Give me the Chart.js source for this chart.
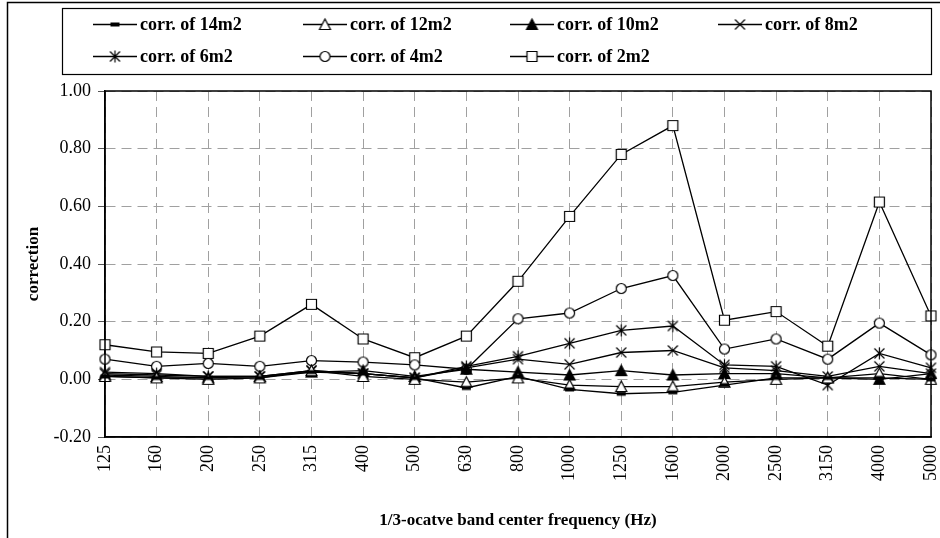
<!DOCTYPE html>
<html><head><meta charset="utf-8">
<script src="https://cdn.jsdelivr.net/npm/chart.js@4/dist/chart.umd.min.js"></script>
<style>html,body{margin:0;padding:0;background:#fff;}#wrap{width:940px;height:538px;}</style>
</head><body><div id="wrap"><canvas id="c" width="940" height="538"></canvas></div>
<script>
const categories = ['125','160','200','250','315','400','500','630','800','1000','1250','1600','2000','2500','3150','4000','5000'];
const corr14 = [0.010,0.005,0.005,0.005,0.025,0.020,0.005,-0.030,0.010,-0.035,-0.050,-0.045,-0.020,0.005,0.005,0.005,0.000];
const corr12 = [0.010,0.005,0.000,0.005,0.030,0.010,0.000,-0.010,0.005,-0.020,-0.025,-0.025,-0.010,0.000,0.005,0.020,0.000];
const corr10 = [0.015,0.010,0.005,0.010,0.025,0.030,0.010,0.035,0.025,0.015,0.030,0.015,0.020,0.020,0.005,0.000,0.020];
const corr8  = [0.020,0.015,0.010,0.010,0.030,0.020,0.005,0.040,0.070,0.052,0.093,0.100,0.040,0.030,0.010,0.045,0.020];
const corr6  = [0.025,0.020,0.010,0.010,0.030,0.020,0.005,0.045,0.080,0.125,0.170,0.185,0.050,0.045,-0.020,0.090,0.040];
const corr4  = [0.070,0.045,0.055,0.045,0.065,0.060,0.050,0.035,0.210,0.230,0.315,0.360,0.105,0.140,0.070,0.195,0.085];
const corr2  = [0.120,0.095,0.090,0.150,0.260,0.140,0.075,0.150,0.340,0.565,0.780,0.880,0.205,0.235,0.115,0.615,0.220];
const seriesNames = ['corr. of 14m2','corr. of 12m2','corr. of 10m2','corr. of 8m2','corr. of 6m2','corr. of 4m2','corr. of 2m2'];
const yMin = -0.2, yMax = 1.0, yStep = 0.2;

const FONT = "'Liberation Serif','Times New Roman',serif";

function mk(kind){
  const s=15, c=document.createElement('canvas'); c.width=s; c.height=s;
  const g=c.getContext('2d'); g.lineWidth=1.2; g.strokeStyle='#000'; g.fillStyle='#fff';
  const m=s/2, r=5;
  g.beginPath();
  if(kind==='dash'){ g.fillStyle='#000'; g.fillRect(m-4.5,m-2,9,4); }
  else if(kind==='tri'||kind==='trif'){
    if(kind==='trif') g.fillStyle='#000';
    g.moveTo(m,m-r-0.5); g.lineTo(m+r+0.5,m+r); g.lineTo(m-r-0.5,m+r); g.closePath(); g.fill(); g.stroke();
  } else if(kind==='x'||kind==='ast'){
    g.moveTo(m-r,m-r); g.lineTo(m+r,m+r); g.moveTo(m+r,m-r); g.lineTo(m-r,m+r);
    if(kind==='ast'){ g.moveTo(m,m-r-1); g.lineTo(m,m+r+1); }
    g.stroke();
  } else if(kind==='circ'){ g.arc(m,m,r,0,Math.PI*2); g.fill(); g.stroke(); }
  else if(kind==='sq'){ g.rect(m-r,m-r,2*r,2*r); g.fill(); g.stroke(); }
  return c;
}
const markers = [mk('dash'),mk('tri'),mk('trif'),mk('x'),mk('ast'),mk('circ'),mk('sq')];
const allData = [corr14,corr12,corr10,corr8,corr6,corr4,corr2];

const datasets = allData.map((d,i)=>({
  label: seriesNames[i], data: d, borderColor:'#000', borderWidth:1.3, tension:0,
  pointStyle: markers[i], pointRadius:5, fill:false, backgroundColor:'#fff'
}));

const frame = {
  id:'frame',
  beforeDraw(chart){
    const g=chart.ctx; g.save(); g.strokeStyle='#000'; g.lineWidth=1.5;
    g.beginPath(); g.moveTo(7.5,538); g.lineTo(7.5,2.5); g.lineTo(940,2.5); g.stroke(); g.restore();
  },
  afterDraw(chart){
    const g=chart.ctx, a=chart.chartArea; g.save();
    g.strokeStyle='#000'; g.lineWidth=1.5;
    g.strokeRect(a.left,a.top,a.right-a.left,a.bottom-a.top);
    // legend
    g.lineWidth=1.2; g.strokeRect(62.5,8.5,869,66);
    const cols=[93,303,510,718], rows=[24,56];
    g.font="bold 18px "+FONT; g.textBaseline='middle'; g.fillStyle='#000';
    seriesNames.forEach((n,i)=>{
      const x=cols[i%4], y=rows[Math.floor(i/4)];
      g.beginPath(); g.lineWidth=1.3; g.moveTo(x,y+0.5); g.lineTo(x+44,y+0.5); g.stroke();
      const mkc=markers[i]; g.drawImage(mkc, x+22-mkc.width/2, y+0.5-mkc.height/2);
      g.fillText(n, x+47, y+1);
    });
    g.restore();
  }
};

Chart.defaults.font.family = FONT;
Chart.defaults.color = '#000';
new Chart(document.getElementById('c'), {
  type:'line',
  data:{ labels: categories, datasets },
  options:{
    responsive:false, animation:false, devicePixelRatio:1,
    layout:{ padding:{ left:0, top:91, right:9, bottom:0 } },
    plugins:{ legend:{display:false}, tooltip:{enabled:false} },
    scales:{
      x:{ type:'category', offset:false,
        grid:{ color:'#a0a0a0', drawTicks:false, lineWidth:1 },
        border:{ display:true, color:'#000', width:1.5, dash:[10,6] },
        ticks:{ maxRotation:90, minRotation:90, autoSkip:false, padding:8, font:{size:18} },
        title:{ display:true, text:'1/3-ocatve band center frequency (Hz)', font:{size:17, weight:'bold'}, padding:{top:0,bottom:7} },
        afterFit(s){ s.height = 101; s.paddingLeft = 0; s.paddingRight = 0; }
      },
      y:{ min:yMin, max:yMax,
        grid:{ color:'#a0a0a0', tickLength:7, tickBorderDash:[], tickColor:'#555' },
        border:{ display:true, color:'#000', width:1.5, dash:[10,6] },
        ticks:{ stepSize:yStep, padding:7, font:{size:18}, callback:v=>Math.abs(v)<1e-9?'0.00':Number(v).toFixed(2) },
        title:{ display:true, text:'correction', font:{size:17, weight:'bold'}, padding:{top:23,bottom:0} },
        afterFit(s){ s.width = 105; s.paddingTop = 0; s.paddingBottom = 0; }
      }
    }
  },
  plugins:[frame]
});
</script></body></html>
